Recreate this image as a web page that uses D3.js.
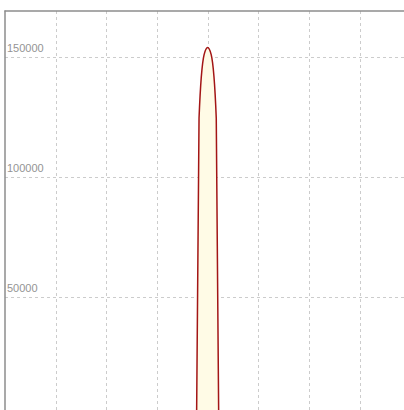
<!DOCTYPE html>
<html><head><meta charset="utf-8">
<script src="https://cdn.jsdelivr.net/npm/d3@7"></script>
<style>html,body{margin:0;padding:0;background:#fff;overflow:hidden}</style>
</head><body>
<svg id="c" width="404" height="410"></svg>
<script>
const xValues = [3.78, 3.83, 3.93, 4.0, 4.07, 4.17, 4.22];
const yValues = [-5000, 124500, 151000, 154000, 151000, 124500, -5000];
const xTicks = [1, 2, 3, 4, 5, 6, 7];
const yTicks = [50000, 100000, 150000];
const yTickLabels = ["50000", "100000", "150000"];

const svg = d3.select("#c");
const x = d3.scaleLinear().domain([0, 8]).range([5, 410.3]);
const y = d3.scaleLinear().domain([0, 169000]).range([417, 11.4]);

// grid
svg.append("g").selectAll("line").data(xTicks).join("line")
  .attr("x1", d => Math.round(x(d)) + 0.5).attr("x2", d => Math.round(x(d)) + 0.5)
  .attr("y1", 11).attr("y2", 410)
  .attr("stroke", "#cccccc").attr("stroke-dasharray", "3,3");
svg.append("g").selectAll("line").data(yTicks).join("line")
  .attr("x1", 5).attr("x2", 404)
  .attr("y1", d => Math.round(y(d)) + 0.5).attr("y2", d => Math.round(y(d)) + 0.5)
  .attr("stroke", "#cccccc").attr("stroke-dasharray", "3,3");

// labels
svg.append("g").selectAll("text").data(yTicks).join("text")
  .attr("x", 7).attr("y", d => y(d) - 5)
  .attr("font-family", "Arial, Liberation Sans, sans-serif").attr("font-size", 11)
  .attr("fill", "#949494")
  .text((d, i) => yTickLabels[i]);

// area
const pts = xValues.map((v, i) => [v, yValues[i]]);
const line = d3.line().x(d => x(d[0])).y(d => y(d[1])).curve(d3.curveMonotoneX);
svg.append("path").datum(pts).attr("d", line(pts) + "Z")
  .attr("fill", "#fffbe6").attr("stroke", "none");
svg.append("path").datum(pts).attr("d", line)
  .attr("fill", "none").attr("stroke", "#a31515").attr("stroke-width", 1.5);

// frame
svg.append("line").attr("x1", 4.5).attr("x2", 404).attr("y1", 11).attr("y2", 11)
  .attr("stroke", "#8c8c8c").attr("stroke-width", 1.5);
svg.append("line").attr("x1", 5).attr("x2", 5).attr("y1", 10.5).attr("y2", 410)
  .attr("stroke", "#8c8c8c").attr("stroke-width", 1.5);
</script>
</body></html>
